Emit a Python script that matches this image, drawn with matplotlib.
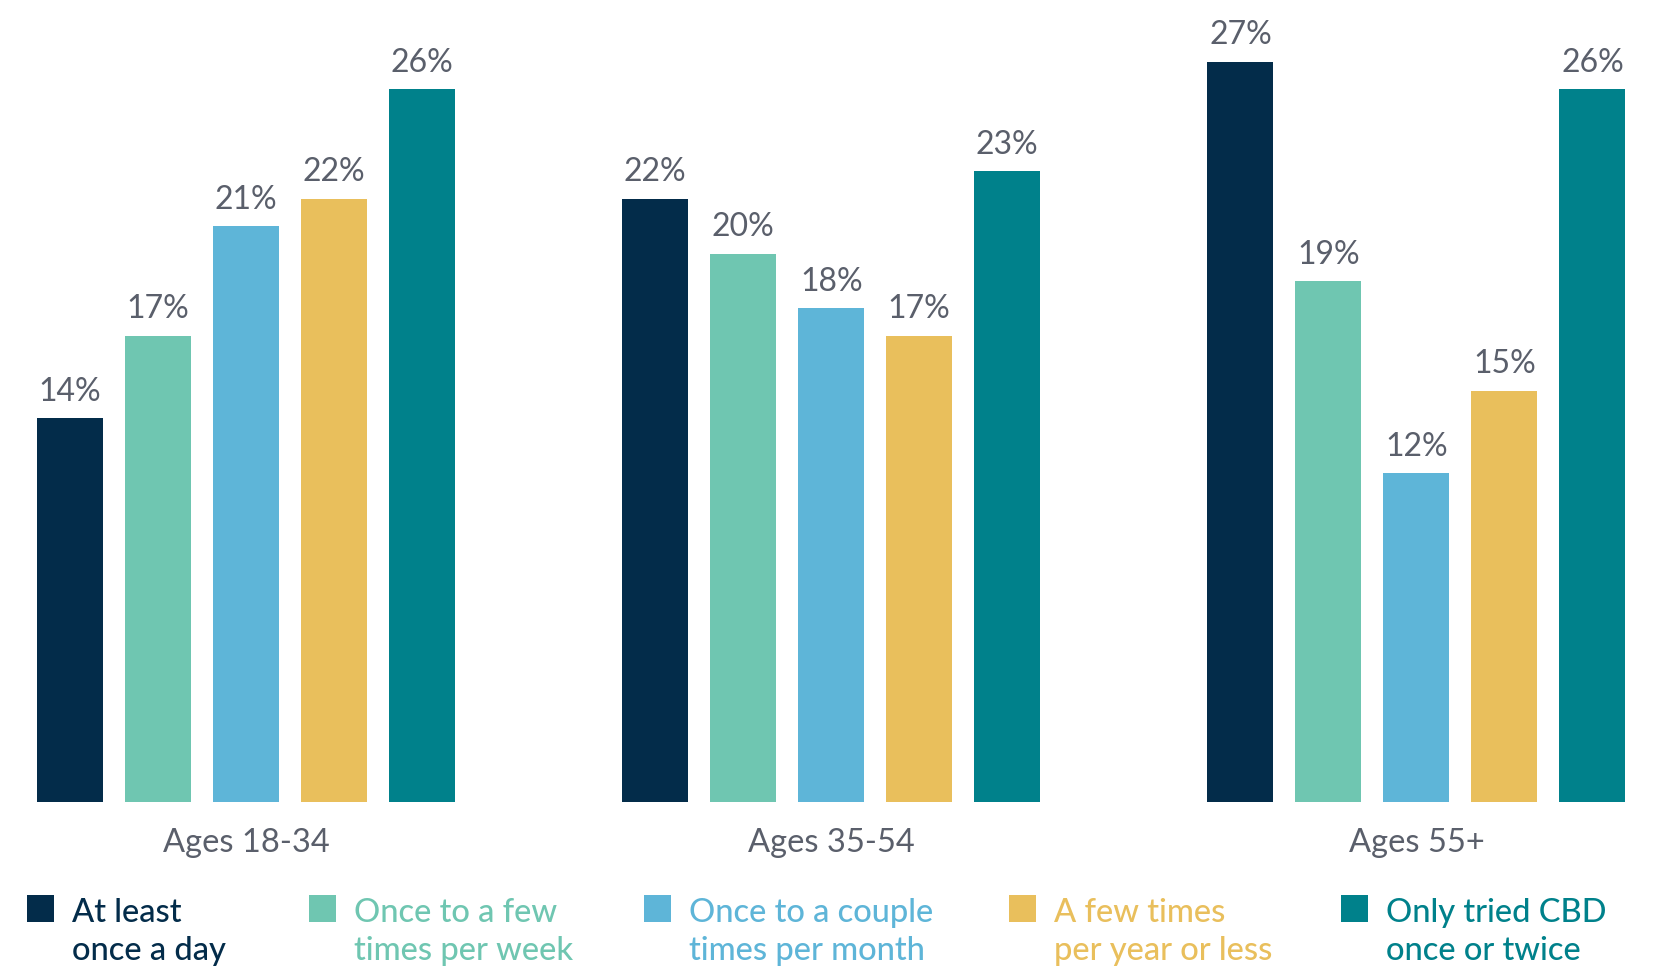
import matplotlib
matplotlib.use("Agg")
import matplotlib.pyplot as plt
from matplotlib.patches import Rectangle

# Share of CBD users by frequency of use, within each age group (%)
age_groups = ["Ages 18-34", "Ages 35-54", "Ages 55+"]
frequencies = [
    "At least\nonce a day",
    "Once to a few\ntimes per week",
    "Once to a couple\ntimes per month",
    "A few times\nper year or less",
    "Only tried CBD\nonce or twice",
]
at_least_daily = [14, 22, 27]
weekly = [17, 20, 19]
monthly = [21, 18, 12]
yearly_or_less = [22, 17, 15]
tried_once_twice = [26, 23, 26]

series = [at_least_daily, weekly, monthly, yearly_or_less, tried_once_twice]
colors = ["#032c4a", "#6fc6b1", "#5eb5d8", "#e9bf5c", "#00818b"]
text_gray = "#5a5f6b"

W, H = 1660, 969
plt.rcParams["font.family"] = ["Lato", "DejaVu Sans"]

fig = plt.figure(figsize=(W / 100, H / 100), dpi=100)

# Axes geometry (pixel based): baseline at y=802, first bar centre at x=70,
# one bar slot = 88 px, 1 percentage point = 27.42 px
slot_px = 88.0
first_px = 70.0
base_px = 802.0
pct_px = 27.42
ax = fig.add_axes([0, (H - base_px) / H, 1, base_px / H])
ax.set_xlim(-first_px / slot_px, (W - first_px) / slot_px)
ax.set_ylim(0, base_px / pct_px)
ax.axis("off")

group_step = 6.65
bar_width = 0.75
n = len(series)

for i, (vals, col) in enumerate(zip(series, colors)):
    xs = [g * group_step + i for g in range(len(age_groups))]
    ax.bar(xs, vals, width=bar_width, color=col, linewidth=0)
    for x, v in zip(xs, vals):
        ax.annotate(f"{v}%", xy=(x, v), xytext=(0, 12.5), textcoords="offset points",
                    ha="center", va="baseline", fontsize=23, color=text_gray)

for g, name in enumerate(age_groups):
    cx = g * group_step + (n - 1) / 2
    ax.annotate(name, xy=(cx, 0), xytext=(0, -36), textcoords="offset points",
                ha="center", va="baseline", fontsize=23.5, color=text_gray,
                annotation_clip=False)

# Legend drawn as coloured squares with two-line coloured captions
legend_x_px = [27, 309, 644, 1009, 1341]
sq_size = 27
sq_top = 895
line1_base = 922
line2_base = 960
for label, col, lx in zip(frequencies, colors, legend_x_px):
    fig.patches.append(Rectangle((lx / W, 1 - (sq_top + sq_size) / H), sq_size / W, sq_size / H,
                                 transform=fig.transFigure, facecolor=col, edgecolor="none"))
    for line, yb in zip(label.split("\n"), [line1_base, line2_base]):
        fig.text((lx + 45) / W, 1 - yb / H, line, ha="left", va="baseline",
                 fontsize=23.5, color=col, fontweight="medium")

fig.savefig("out.png", dpi=100)
